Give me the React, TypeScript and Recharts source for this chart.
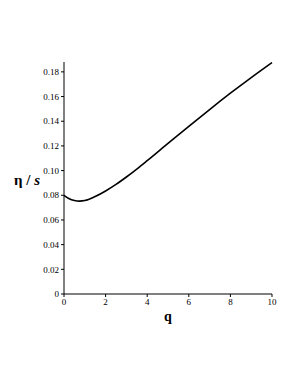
import { Label, Line, LineChart, XAxis, YAxis } from "recharts";

// q values and eta/s
const qValues = [0, 0.25, 0.5, 0.75, 1, 1.5, 2, 2.5, 3, 3.5, 4, 5, 6, 7, 8, 9, 10];
const etaOverS = [
  0.08, 0.0772, 0.0758, 0.0753, 0.0757, 0.079, 0.0835, 0.0888, 0.0948, 0.1012,
  0.108, 0.122, 0.1359, 0.1495, 0.1627, 0.1754, 0.1876
];
const xTicks = [0, 2, 4, 6, 8, 10];
const yTicks = [0, 0.02, 0.04, 0.06, 0.08, 0.1, 0.12, 0.14, 0.16, 0.18];

const data = qValues.map((q, i) => ({ q, v: etaOverS[i] }));

const font = "'Liberation Serif', 'Times New Roman', serif";
const tickStyle = { fontSize: 9, fill: "#000", fontFamily: font };

export default function App() {
  return (
    <div style={{ position: "absolute", left: 0, top: 0, background: "#fff" }}>
      <LineChart width={298} height={385} data={data} margin={{ top: 62, right: 26, bottom: 71, left: 0 }}>
        <XAxis
          dataKey="q"
          type="number"
          domain={[0, 10]}
          ticks={xTicks}
          tick={tickStyle}
          tickSize={3}
          tickMargin={2}
          stroke="#000"
          height={20}
        >
          <Label
            content={() => (
              <text x={168} y={321} textAnchor="middle" fontFamily={font} fontWeight="bold" fontSize={14} fill="#000">
                q
              </text>
            )}
          />
        </XAxis>
        <YAxis
          type="number"
          domain={[0, 0.188]}
          ticks={yTicks}
          tick={tickStyle}
          tickFormatter={(v: number) => (v === 0 ? "0" : v.toFixed(2))}
          tickSize={3}
          tickMargin={2}
          stroke="#000"
          width={64}
          interval={0}
        >
          <Label
            content={() => (
              <text x={27} y={185} textAnchor="middle" fontFamily={font} fontWeight="bold" fontSize={15} fill="#000">
                η / <tspan fontStyle="italic">s</tspan>
              </text>
            )}
          />
        </YAxis>
        <Line
          type="monotone"
          dataKey="v"
          stroke="#000"
          strokeWidth={1.6}
          dot={false}
          isAnimationActive={false}
        />
      </LineChart>
    </div>
  );
}
